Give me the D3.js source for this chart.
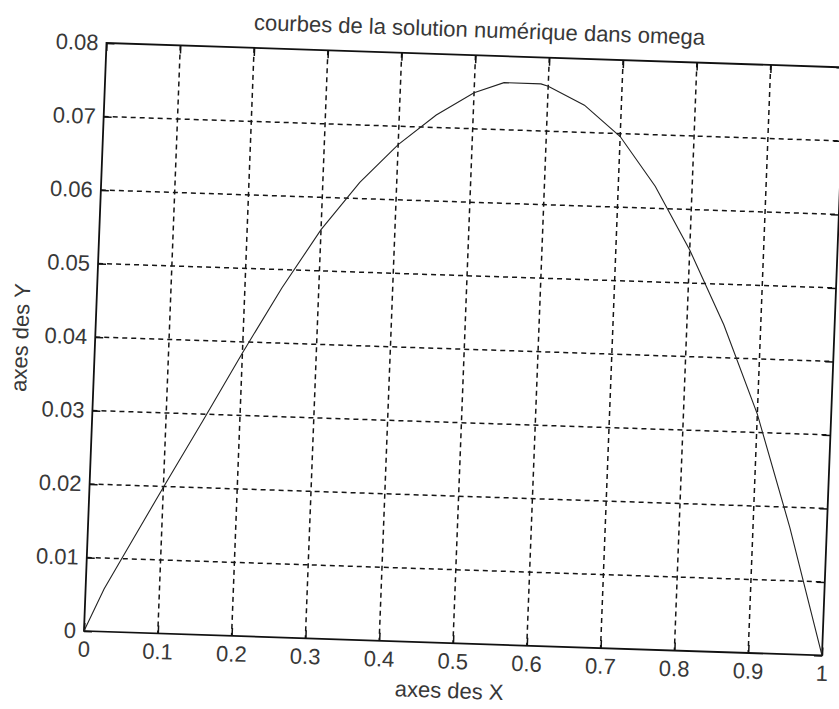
<!DOCTYPE html>
<html>
<head>
<meta charset="utf-8">
<script src="https://cdnjs.cloudflare.com/ajax/libs/d3/7.8.5/d3.min.js"></script>
<style>
body { margin: 0; background: #fff; }
svg { display: block; }
text { font-family: "Liberation Sans", Arial, sans-serif; font-size: 22px; fill: #383838; }
</style>
</head>
<body>
<svg id="chart" width="839" height="709"></svg>
<script>
var xValues = [0, 0.025, 0.05, 0.1, 0.15, 0.2, 0.25, 0.3, 0.35, 0.4, 0.45, 0.5, 0.54, 0.59, 0.6, 0.65, 0.7, 0.75, 0.8, 0.85, 0.9, 0.95, 1];
var yValues = [0, 0.0058, 0.0105, 0.0199, 0.0291, 0.0385, 0.0475, 0.0556, 0.0622, 0.0675, 0.0717, 0.0749, 0.0764, 0.0764, 0.0761, 0.0737, 0.0696, 0.063, 0.0545, 0.0445, 0.0325, 0.0172, 0];

var xTicks = [0, 0.1, 0.2, 0.3, 0.4, 0.5, 0.6, 0.7, 0.8, 0.9, 1];
var xTickLabels = ["0", "0.1", "0.2", "0.3", "0.4", "0.5", "0.6", "0.7", "0.8", "0.9", "1"];
var yTicks = [0, 0.01, 0.02, 0.03, 0.04, 0.05, 0.06, 0.07, 0.08];
var yTickLabels = ["0", "0.01", "0.02", "0.03", "0.04", "0.05", "0.06", "0.07", "0.08"];

var title = "courbes de la solution numérique dans omega";
var xTitle = "axes des X";
var yTitle = "axes des Y";

var width = 738, height = 588;
// the scanned page is a little tilted, so the plot lives in a skewed frame
var tilt = [1, 0.0331, -0.0383, 1, 106.5, 43];

function drawChart() {
    var svg = d3.select("#chart");
    var g = svg.append("g")
        .attr("transform", "matrix(" + tilt.join(",") + ")");

    var x = d3.scaleLinear().domain([0, 1]).range([0, width]);
    var y = d3.scaleLinear().domain([0, 0.08]).range([height, 0]);

    // dashed grid
    g.append("g").attr("class", "grid")
        .selectAll("line.gx")
        .data(xTicks.slice(1, -1))
        .enter().append("line")
        .attr("x1", function(d) { return x(d); })
        .attr("x2", function(d) { return x(d); })
        .attr("y1", 0)
        .attr("y2", height)
        .attr("stroke", "#151515")
        .attr("stroke-width", 1.5)
        .attr("stroke-dasharray", "5,4");

    g.append("g").attr("class", "grid")
        .selectAll("line.gy")
        .data(yTicks.slice(1, -1))
        .enter().append("line")
        .attr("x1", 0)
        .attr("x2", width)
        .attr("y1", function(d) { return y(d); })
        .attr("y2", function(d) { return y(d); })
        .attr("stroke", "#151515")
        .attr("stroke-width", 1.5)
        .attr("stroke-dasharray", "5,4");

    // axes, ticks pointing inside like matlab
    var bottom = g.append("g")
        .attr("transform", "translate(0," + height + ")")
        .call(d3.axisBottom(x).tickValues(xTicks)
            .tickFormat(function(d, i) { return xTickLabels[i]; })
            .tickSizeInner(-8).tickSizeOuter(0).tickPadding(10));

    var left = g.append("g")
        .call(d3.axisLeft(y).tickValues(yTicks)
            .tickFormat(function(d, i) { return yTickLabels[i]; })
            .tickSizeInner(-8).tickSizeOuter(0).tickPadding(8));

    var top = g.append("g")
        .call(d3.axisTop(x).tickValues(xTicks).tickFormat("")
            .tickSizeInner(-8).tickSizeOuter(0));

    var right = g.append("g")
        .attr("transform", "translate(" + width + ",0)")
        .call(d3.axisRight(y).tickValues(yTicks).tickFormat("")
            .tickSizeInner(-8).tickSizeOuter(0));

    [bottom, left, top, right].forEach(function(a) {
        a.select(".domain").remove();
        a.selectAll(".tick line").attr("stroke", "#111").attr("stroke-width", 1.5);
    });

    g.append("rect")
        .attr("x", 0)
        .attr("y", 0)
        .attr("width", width)
        .attr("height", height)
        .attr("fill", "none")
        .attr("stroke", "#111")
        .attr("stroke-width", 1.8);

    // the curve
    var points = xValues.map(function(d, i) { return [d, yValues[i]]; });
    var line = d3.line()
        .x(function(d) { return x(d[0]); })
        .y(function(d) { return y(d[1]); });

    g.append("path")
        .datum(points)
        .attr("d", line)
        .attr("fill", "none")
        .attr("stroke", "#222")
        .attr("stroke-width", 1.1);

    // titles
    g.append("text")
        .attr("x", width / 2 + 3)
        .attr("y", -18)
        .attr("text-anchor", "middle")
        .text(title);

    g.append("text")
        .attr("x", width / 2 - 2)
        .attr("y", height + 55)
        .attr("text-anchor", "middle")
        .text(xTitle);

    g.append("text")
        .attr("transform", "translate(-67," + (height / 2 + 3) + ") rotate(-90)")
        .attr("text-anchor", "middle")
        .text(yTitle);
}

drawChart();
</script>
</body>
</html>
